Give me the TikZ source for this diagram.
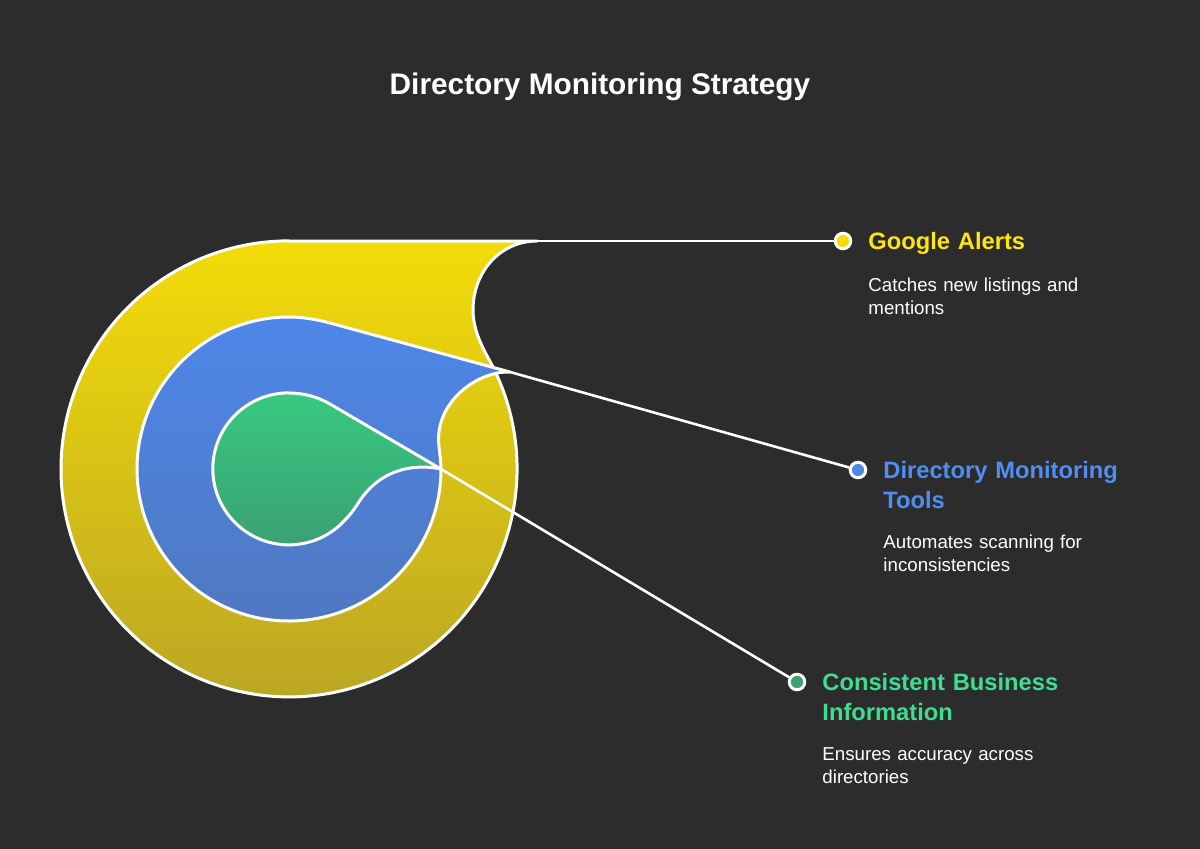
\documentclass[tikz,border=0pt]{standalone}
\usepackage{fontspec}
\setmainfont{Liberation Sans}
\usetikzlibrary{positioning}
\definecolor{bgdark}{HTML}{2C2C2C}
\definecolor{goldtop}{HTML}{F3DC08}
\definecolor{goldlow}{HTML}{B8A326}
\definecolor{bluetop}{HTML}{4E87E8}
\definecolor{bluelow}{HTML}{4F78C2}
\definecolor{greentop}{HTML}{38C980}
\definecolor{greenlow}{HTML}{3A9F72}
\definecolor{goldtext}{HTML}{FFE60F}
\definecolor{bluetext}{HTML}{4F8EF2}
\definecolor{greentext}{HTML}{3EDD90}
\tikzset{
    blob/.style={draw=white, line width=3pt, line join=round},
    wire/.style={draw=white, line width=2.6pt},
    dot/.style={draw=white, circle, line width=3pt, minimum size=15.5pt, inner sep=0pt},
    headtext/.style={font=\bfseries\fontsize{23.7}{30}\selectfont, align=left, inner sep=0pt, text width=250pt},
    desctext/.style={font=\fontsize{18.7}{23}\selectfont, text=white, align=left, inner sep=0pt, text width=230pt}
}
\begin{document}
\begin{tikzpicture}[x=1pt, y=-1pt, node distance=16pt]
    \fill[bgdark] (0,0) rectangle (1200,849);
    \useasboundingbox (0,0) rectangle (1200,849);
    \node[font=\bfseries\fontsize{29.8}{36}\selectfont, text=white] (title) at (600,87) {Directory Monitoring Strategy};

    % nested shapes
    \draw[blob, top color=goldtop, bottom color=goldlow] (289,241) -- (537,241)
        .. controls (500,241) and (473,272) .. (473,310)
        .. controls (473,330) and (482,347) .. (492,365)
        arc[start angle=-27.1, end angle=270, radius=228] -- cycle;
    \draw[blob, top color=bluetop, bottom color=bluelow] (289,317)
        .. controls (303,317) and (317,319.5) .. (330,323) -- (510,372)
        .. controls (478,371) and (438,400) .. (438.5,440)
        .. controls (439,450) and (441,460) .. (441,469)
        arc[start angle=0, end angle=270, radius=152] -- cycle;
    \draw[blob, top color=greentop, bottom color=greenlow] (289,393)
        .. controls (304,393) and (318,397) .. (330,404) -- (441,469)
        .. controls (412,463) and (378,470) .. (357,505)
        .. controls (353,511) and (349,516) .. (345,520)
        arc[start angle=42.3, end angle=270, radius=76] -- cycle;

    \coordinate (goldtip) at (537,241);
    \coordinate (bluetip) at (510,372);
    \coordinate (greentip) at (441,469);

    % dots and labels
    \node[dot, fill=goldtop] (golddot) at (843,241) {};
    \node[dot, fill=bluetop] (bluedot) at (858,470) {};
    \node[dot, fill=greenlow] (greendot) at (797,682) {};

    \draw[wire] (goldtip) -- (golddot);
    \draw[wire] (bluetip) -- (bluedot);
    \draw[wire] (greentip) -- (greendot);

    \node[headtext, text=goldtext, right=of golddot, yshift=-2pt] (goldhead) {Google Alerts};
    \node[desctext, below=23pt of goldhead.south west, anchor=north west] (golddesc) {Catches new listings and\\mentions};

    \node[headtext, text=bluetext, right=of bluedot, yshift=-15pt] (bluehead) {Directory Monitoring\\Tools};
    \node[desctext, below=26pt of bluehead.south west, anchor=north west] (bluedesc) {Automates scanning for\\inconsistencies};

    \node[headtext, text=greentext, right=of greendot, yshift=-15pt] (greenhead) {Consistent Business\\Information};
    \node[desctext, below=27pt of greenhead.south west, anchor=north west] (greendesc) {Ensures accuracy across\\directories};
\end{tikzpicture}
\end{document}
